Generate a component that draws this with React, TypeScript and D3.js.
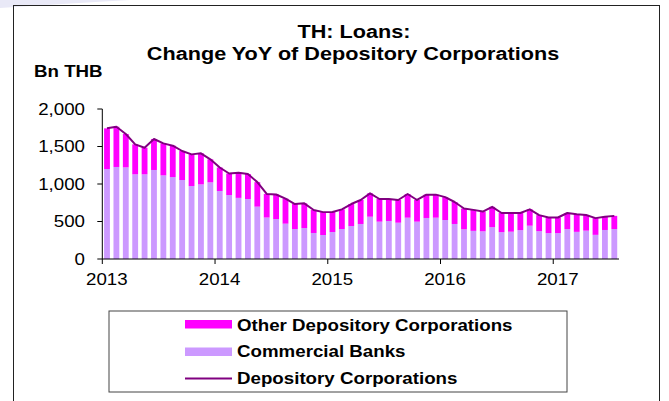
import React from 'react';
import * as d3 from 'd3';

// months Jan 2013 .. Jul 2017
const months = d3.timeMonth.range(new Date(2013, 0, 1), new Date(2017, 7, 1)).map((d) => d3.timeFormat('%Y-%m')(d));
const yearLabels = ['2013', '2014', '2015', '2016', '2017'];
const yTicks = [0, 500, 1000, 1500, 2000];

// Bn THB, change YoY
const commercialBanks = [
  1200, 1227, 1222, 1129, 1129, 1187, 1115, 1093, 1053, 973, 995, 1022,
  907, 853, 815, 800, 698, 553, 533, 471, 400, 413, 347, 320,
  360, 400, 440, 467, 564, 498, 507, 484, 551, 498, 547, 551,
  520, 467, 396, 375, 369, 425, 358, 364, 385, 444, 371, 345,
  345, 398, 362, 378, 322, 387, 400,
];
const otherDepository = [
  542, 537, 445, 400, 355, 413, 427, 418, 387, 422, 414, 307,
  313, 287, 336, 333, 327, 315, 327, 334, 333, 329, 306, 305,
  267, 262, 293, 320, 311, 302, 293, 303, 316, 289, 311, 307,
  305, 293, 277, 280, 264, 270, 255, 249, 228, 218, 214, 208,
  208, 215, 234, 209, 223, 177, 175,
];
const depositoryCorporations = [
  1742, 1764, 1667, 1529, 1484, 1600, 1542, 1511, 1440, 1395, 1409, 1329,
  1220, 1140, 1151, 1133, 1025, 868, 860, 805, 733, 742, 653, 625,
  627, 662, 733, 787, 875, 800, 800, 787, 867, 787, 858, 858,
  825, 760, 673, 655, 633, 695, 613, 613, 613, 662, 585, 553,
  553, 613, 596, 587, 545, 564, 575,
];

const W = 669;
const H = 401;
const FONT = 'Liberation Sans, Arial, sans-serif';
const SX = 1.17; // the original text is a bit wider than Arial

const COL_OTHER = '#ff00ff';
const COL_BANKS = '#cc99ff';
const COL_LINE = '#800080';

// stretched text helper
const T = ({ x, y, size, bold, anchor, children }: any) => (
  <text
    transform={`translate(${x},${y}) scale(${SX},1)`}
    fontFamily={FONT}
    fontSize={size}
    fontWeight={bold ? 'bold' : 'normal'}
    textAnchor={anchor || 'start'}
    fill="#000"
  >
    {children}
  </text>
);

export default function App() {
  const x = d3.scaleBand<string>().domain(months).range([102.3, 619]).paddingInner(0.38).paddingOuter(0.19);
  const y = d3.scaleLinear().domain([0, 2000]).range([259, 109]);

  const rows = months.map((m, i) => ({ month: m, banks: commercialBanks[i], other: otherDepository[i] }));
  const series = d3.stack<any>().keys(['banks', 'other'])(rows);
  const colors: Record<string, string> = { banks: COL_BANKS, other: COL_OTHER };

  const gap = (x.step() - x.bandwidth()) / 2;
  const cx = (m: string) => (x(m) as number) + x.bandwidth() / 2;
  const line = d3
    .line<number>()
    .x((_, i) => cx(months[i]))
    .y((d) => y(d))
    .curve(d3.curveLinear);

  const [x0, x1] = x.range();

  return (
    <svg width={W} height={H} style={{ position: 'absolute', left: 0, top: 0, background: '#fff' }}>
      <path d="M0,0 L130,0 Q60,4 0,8 Z" fill="#e9e9f7" />
      <rect x={13.5} y={5.5} width={646} height={420} fill="none" stroke="#222" strokeWidth={1} />

      {/* titles */}
      <T x={354} y={38} size={18.5} bold anchor="middle">TH: Loans:</T>
      <T x={353} y={60} size={18.5} bold anchor="middle">Change YoY of Depository Corporations</T>
      <T x={34} y={77} size={16} bold>Bn THB</T>

      {/* bars */}
      {series.map((s) => (
        <g key={s.key} fill={colors[s.key]}>
          {s.map((d: any, i: number) => (
            <rect key={i} x={x(months[i])} width={x.bandwidth()} y={y(d[1])} height={y(d[0]) - y(d[1])} />
          ))}
        </g>
      ))}

      {/* total line */}
      <path d={line(depositoryCorporations) || ''} fill="none" stroke={COL_LINE} strokeWidth={2} strokeLinejoin="round" />

      {/* y axis */}
      <line x1={x0} x2={x0} y1={y(2000)} y2={y(0)} stroke="#000" />
      {yTicks.map((t) => (
        <g key={t}>
          <line x1={x0 - 5} x2={x0} y1={y(t)} y2={y(t)} stroke="#000" />
          <T x={85} y={y(t) + 5.8} size={16} anchor="end">{d3.format(',')(t)}</T>
        </g>
      ))}

      {/* x axis */}
      <line x1={x0} x2={x1} y1={y(0)} y2={y(0)} stroke="#000" />
      {yearLabels.map((yr) => {
        const tx = (x(`${yr}-01`) as number) - gap;
        return (
          <g key={yr}>
            <line x1={tx} x2={tx} y1={y(0)} y2={y(0) + 5} stroke="#000" />
            <T x={tx + 4.5} y={285} size={16} anchor="middle">{yr}</T>
          </g>
        );
      })}

      {/* legend */}
      <rect x={109} y={311} width={458} height={81} fill="#fff" stroke="#444" strokeWidth={1} />
      <rect x={185} y={320} width={47} height={8.5} fill={COL_OTHER} />
      <T x={237} y={330.7} size={16} bold>Other Depository Corporations</T>
      <rect x={185} y={347.5} width={47} height={8.5} fill={COL_BANKS} />
      <T x={237} y={357.3} size={16} bold>Commercial Banks</T>
      <line x1={185} x2={232} y1={378.5} y2={378.5} stroke={COL_LINE} strokeWidth={2} />
      <T x={237} y={383.5} size={16} bold>Depository Corporations</T>
    </svg>
  );
}
